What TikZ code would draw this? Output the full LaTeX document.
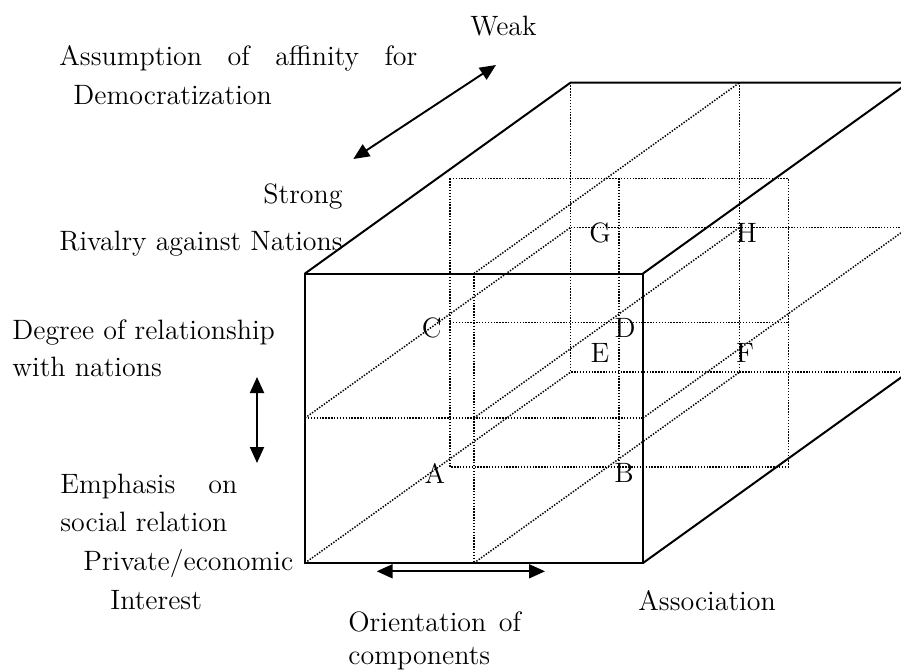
\documentclass[tikz,border=0pt]{standalone}
\usetikzlibrary{arrows.meta}
\begin{document}
\begin{tikzpicture}[x=0.5pt,y=-0.5pt,
  solidline/.style={line width=1pt, line join=miter},
  dotline/.style={line width=0.75pt, dash pattern=on 0.7pt off 0.75pt},
  dblarrow/.style={line width=0.95pt, {Triangle[length=8pt,width=7pt]}-{Triangle[length=8pt,width=7pt]}},
  lbl/.style={font=\fontsize{14}{17}\selectfont, inner sep=0pt, anchor=base west},
  letter/.style={font=\fontsize{14}{17}\selectfont, inner sep=0pt}]
\useasboundingbox (0,0) rectangle (901,670);
\clip (0,0) rectangle (901,670);

% front face
\coordinate (FTL) at (305,273.5);
\coordinate (FTR) at (643,273.5);
\coordinate (FBR) at (643,563);
\coordinate (FBL) at (305,563);
\coordinate (FTM) at (474,273.5);
\coordinate (FBM) at (474,563);
\coordinate (FML) at (305,418);
\coordinate (FMR) at (643,418);
\coordinate (FC)  at (474,418);
% back face
\coordinate (BTL) at (570.7,82.5);
\coordinate (BTR) at (908.7,82.5);
\coordinate (BBR) at (908.7,372);
\coordinate (BBL) at (570.7,372);
\coordinate (BTM) at (739.7,82.5);
\coordinate (BBM) at (739.7,372);
\coordinate (BML) at (570.7,227.3);
\coordinate (BMR) at (908.7,227.3);
\coordinate (BC)  at (739.7,227.3);
% middle slice
\coordinate (MTL) at (450,178.3);
\coordinate (MTR) at (788.3,178.3);
\coordinate (MBR) at (788.3,467);
\coordinate (MBL) at (450,467);
\coordinate (MTM) at (619.2,178.3);
\coordinate (MBM) at (619.2,467);
\coordinate (MML) at (450,322.6);
\coordinate (MMR) at (788.3,322.6);

% dotted hidden lines
\draw[dotline] (BTL) -- (BBL) -- (BBR);
\draw[dotline] (BTM) -- (BBM);
\draw[dotline] (BML) -- (BMR);
\draw[dotline] (FTM) -- (FBM);
\draw[dotline] (FML) -- (FMR);
\draw[dotline] (MTL) rectangle (MBR);
\draw[dotline] (MTM) -- (MBM);
\draw[dotline] (MML) -- (MMR);
\draw[dotline] (FTM) -- (BTM);
\draw[dotline] (FML) -- (BML);
\draw[dotline] (FBL) -- (BBL);
\draw[dotline] (FC) -- (BC);
\draw[dotline] (FBM) -- (BBM);
\draw[dotline] (FMR) -- (BMR);

% solid edges
\draw[solidline] (FTL) rectangle (FBR);
\draw[solidline] (FTL) -- (BTL) -- (BTR);
\draw[solidline] (FTR) -- (BTR);
\draw[solidline] (FBR) -- (BBR);

% letters
\node[letter] (A) at (435,473.3) {A};
\node[letter] (B) at (624,473.3) {B};
\node[letter] (C) at (431.7,328.3) {C};
\node[letter] (D) at (625,328.3) {D};
\node[letter] (E) at (600,352.7) {E};
\node[letter] (F) at (745,352.7) {F};
\node[letter] (G) at (600,233) {G};
\node[letter] (H) at (746.7,232.7) {H};

% arrows
\coordinate (a1) at (496,65);
\coordinate (a2) at (353.3,159);
\draw[dblarrow] (a2) -- (a1);
\coordinate (v1) at (257,377);
\coordinate (v2) at (257,463);
\draw[dblarrow] (v1) -- (v2);
\coordinate (h1) at (376.7,571.3);
\coordinate (h2) at (545,571.3);
\draw[dblarrow] (h1) -- (h2);

% texts
\node[lbl] (weak) at (470,35) {Weak};
\node[lbl] (assum) at (59,65) {\makebox[179pt][s]{Assumption of affinity for}};
\node[lbl] (demo) at (73,104) {Democratization};
\node[lbl] (strong) at (263,203) {Strong};
\node[lbl] (rival) at (59,250) {Rivalry against Nations};
\node[lbl] (degree) at (12,339) {Degree of relationship};
\node[lbl] (withn) at (12,376) {with nations};
\node[lbl] (emph) at (60,493) {\makebox[88.5pt][s]{Emphasis on}};
\node[lbl] (social) at (60,531) {social relation};
\node[lbl] (priv) at (83,570) {Private/economic};
\node[lbl] (inter) at (110,609) {Interest};
\node[lbl] (orient) at (348,631) {Orientation\hspace{0.45em}of};
\node[lbl] (comp) at (348,664) {components};
\node[lbl] (assoc) at (638,610) {Association};
\end{tikzpicture}
\end{document}
